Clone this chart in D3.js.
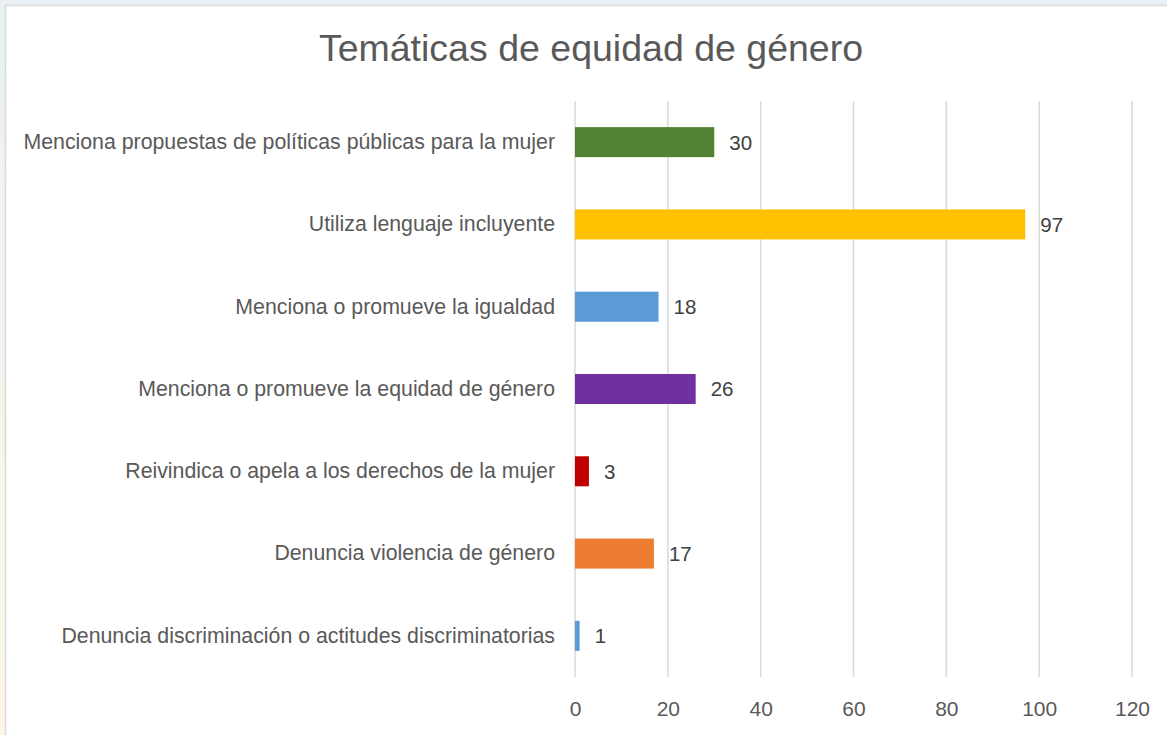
<!DOCTYPE html>
<html><head><meta charset="utf-8">
<script src="https://cdn.jsdelivr.net/npm/d3@7"></script>
<style>html,body{margin:0;padding:0;background:#fff;}svg{display:block;}</style>
</head><body>
<script>
const categories = [
  "Menciona propuestas de políticas públicas para la mujer",
  "Utiliza lenguaje incluyente",
  "Menciona o promueve la igualdad",
  "Menciona o promueve la equidad de género",
  "Reivindica o apela a los derechos de la mujer",
  "Denuncia violencia de género",
  "Denuncia discriminación o actitudes discriminatorias"
];
const values = [30, 97, 18, 26, 3, 17, 1];
const barColors = ["#548235", "#FFC000", "#5B9BD5", "#7030A0", "#C00000", "#ED7D31", "#5B9BD5"];
const xTicks = [0, 20, 40, 60, 80, 100, 120];
const title = "Temáticas de equidad de género";

const W = 1167, H = 735;
const FONT = "'Liberation Sans', Arial, sans-serif";
const svg = d3.select("body").append("svg").attr("width", W).attr("height", H)
  .style("font-family", FONT);

const defs = svg.append("defs");
const g1 = defs.append("linearGradient").attr("id", "bg").attr("x1", 0).attr("y1", 0).attr("x2", 0).attr("y2", 1);
g1.append("stop").attr("offset", "0%").attr("stop-color", "#e9f1f5");
g1.append("stop").attr("offset", "50%").attr("stop-color", "#f3f5ee");
g1.append("stop").attr("offset", "100%").attr("stop-color", "#fdf7e6");
svg.append("rect").attr("width", W).attr("height", H).attr("fill", "url(#bg)");
svg.append("rect").attr("x", 5.5).attr("y", 5.5).attr("width", W + 10).attr("height", H + 10)
  .attr("fill", "#fff").attr("stroke", "#d9d9d9").attr("stroke-width", 1.5);

const m = {left: 575, right: 1132, top: 101, bottom: 677};
const x = d3.scaleLinear().domain([0, 120]).range([m.left, m.right]);
const y = d3.scaleBand().domain(categories).range([m.top, m.bottom]).paddingInner(0.635).paddingOuter(0.3175);

svg.append("text").attr("x", 591).attr("y", 61).attr("text-anchor", "middle")
  .attr("font-size", 37.5).attr("fill", "#595959").text(title);

// gridlines
svg.append("g").selectAll("line").data(xTicks).join("line")
  .attr("x1", d => x(d)).attr("x2", d => x(d)).attr("y1", m.top).attr("y2", m.bottom)
  .attr("stroke", "#d9d9d9").attr("stroke-width", 1.5);

// x axis labels
const xAxis = d3.axisBottom(x).tickValues(xTicks).tickSize(0).tickPadding(0);
const xa = svg.append("g").attr("transform", `translate(0,${m.bottom})`).call(xAxis);
xa.select(".domain").remove();
xa.selectAll("text").attr("font-size", 21).attr("fill", "#595959")
  .attr("font-family", FONT).attr("y", 0).attr("dy", 0)
  .attr("transform", "translate(0,39)");

// y axis labels
const yAxis = d3.axisLeft(y).tickSize(0).tickPadding(20);
const ya = svg.append("g").attr("transform", `translate(${m.left},0)`).call(yAxis);
ya.select(".domain").remove();
ya.selectAll("text").attr("font-size", 21.3).attr("fill", "#595959")
  .attr("font-family", FONT);

// bars
svg.append("g").selectAll("rect").data(values).join("rect")
  .attr("x", x(0)).attr("y", (d, i) => y(categories[i]))
  .attr("width", d => x(d) - x(0)).attr("height", y.bandwidth())
  .attr("fill", (d, i) => barColors[i]);

// value labels
svg.append("g").selectAll("text").data(values).join("text")
  .attr("x", d => x(d) + 15).attr("y", (d, i) => y(categories[i]) + y.bandwidth() / 2)
  .attr("dy", "0.36em").attr("font-size", 20.5).attr("fill", "#404040").text(d => d);
</script>
</body></html>
